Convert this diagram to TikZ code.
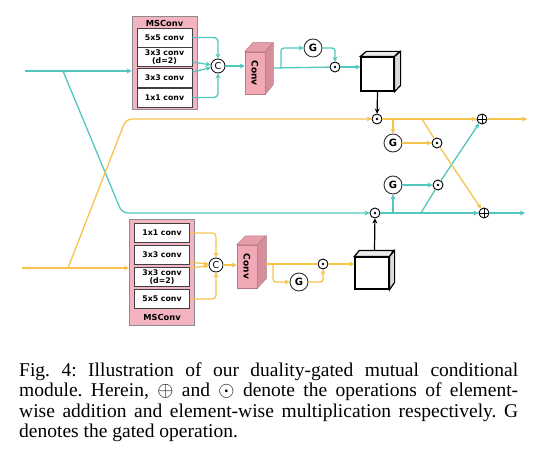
\documentclass[tikz,border=0pt]{standalone}
\usepackage{fontspec}
\setmainfont{Liberation Serif}
\setsansfont{DejaVu Sans}
\usetikzlibrary{arrows.meta,positioning,calc}
\definecolor{gmteal}{HTML}{52C7BD}
\definecolor{gmyellow}{HTML}{F6C34C}
\definecolor{gmpink}{HTML}{F4B3C0}
\definecolor{gmconv}{HTML}{F1A9B5}
\definecolor{gmconvside}{HTML}{D68F9A}
\definecolor{gmconvtop}{HTML}{E59DA9}
\tikzset{
  gmms/.style={draw=black!45, fill=gmpink, line width=0.9pt, inner sep=0pt},
  gmbox/.style={draw=black!75, fill=white, line width=0.8pt, minimum width=55pt,
    minimum height=19pt, inner sep=0pt, align=center,
    font=\sffamily\bfseries\fontsize{7.8}{8.2}\selectfont},
  gmtitle/.style={font=\sffamily\bfseries\fontsize{8.3}{8.3}\selectfont, inner sep=0pt},
  gmcat/.style={circle, draw=black, fill=white, line width=0.8pt, minimum size=14pt,
    inner sep=0pt, font=\sffamily\fontsize{9.5}{9.5}\selectfont},
  gmgate/.style={circle, draw=black!80, fill=white, line width=0.9pt, minimum size=18pt,
    inner sep=0pt, font=\sffamily\bfseries\fontsize{10}{10}\selectfont},
  gmmul/.style={circle, draw=black, fill=white, line width=0.9pt, minimum size=10pt,
    inner sep=0pt, path picture={\fill[black] (path picture bounding box.center) circle (1.4pt);}},
  gmadd/.style={circle, draw=black, fill=white, line width=0.9pt, minimum size=10pt,
    inner sep=0pt, path picture={\draw[black, line width=0.9pt]
      (path picture bounding box.north) -- (path picture bounding box.south)
      (path picture bounding box.west) -- (path picture bounding box.east);}},
  gmconvf/.style={draw=gmconvside!85!black, fill=gmconv, line width=0.5pt, inner sep=0pt},
  gmconvtxt/.style={font=\sffamily\bfseries\fontsize{9}{9}\selectfont, inner sep=0pt},
  gmcubef/.style={draw=black, fill=white, line width=1.2pt, inner sep=0pt},
  gmtline/.style={draw=gmteal, line width=1.3pt},
  gmyline/.style={draw=gmyellow, line width=1.3pt},
  gmtarrow/.style={gmtline, -{Stealth[length=5pt,width=5pt]}},
  gmyarrow/.style={gmyline, -{Stealth[length=5pt,width=5pt]}},
  gmkarrow/.style={draw=black, line width=1.2pt, -{Stealth[length=5pt,width=5pt]}}
}
\begin{document}
\begin{tikzpicture}[x=1pt,y=-1pt]
  \useasboundingbox (0,0) rectangle (538,465);
  % upper MSConv block
  \node[gmms, minimum width=65pt, minimum height=93pt] (msA) at (164.5,62.5) {};
  \node[gmtitle] (msAt) at (164.5,23) {MSConv};
  \node[gmbox] (a1) at (164.5,37.5) {5x5 conv};
  \node[gmbox] (a2) at (164.5,57) {3x3 conv\\(d=2)};
  \node[gmbox] (a3) at (164.5,77.5) {3x3 conv};
  \node[gmbox] (a4) at (164.5,97.5) {1x1 conv};
  \node[gmcat] (cA) at (218,66) {C};
  % lower MSConv block
  \node[gmms, minimum width=65pt, minimum height=106pt] (msB) at (162,272) {};
  \node[gmtitle] (msBt) at (162,317) {MSConv};
  \node[gmbox] (b1) at (162,233) {1x1 conv};
  \node[gmbox] (b2) at (162,254.5) {3x3 conv};
  \node[gmbox] (b3) at (162,277) {3x3 conv\\(d=2)};
  \node[gmbox] (b4) at (162,299) {5x5 conv};
  \node[gmcat] (cB) at (216,265) {C};
  % conv cubes
  \node[gmconvf, minimum width=20pt, minimum height=42pt] (convA) at (255,73) {};
  \filldraw[gmconvf, fill=gmconvtop] (convA.north west) -- ++(8,-9) -- ++(20,0) -- (convA.north east) -- cycle;
  \filldraw[gmconvf, fill=gmconvside] (convA.north east) -- ++(8,-9) -- ++(0,42) -- (convA.south east) -- cycle;
  \node[gmconvtxt, rotate=-90] at (convA) {Conv};
  \node[gmconvf, minimum width=20pt, minimum height=43pt] (convB) at (247,266.5) {};
  \filldraw[gmconvf, fill=gmconvtop] (convB.north west) -- ++(9,-9) -- ++(20,0) -- (convB.north east) -- cycle;
  \filldraw[gmconvf, fill=gmconvside] (convB.north east) -- ++(9,-9) -- ++(0,43) -- (convB.south east) -- cycle;
  \node[gmconvtxt, rotate=-90] at (convB) {Conv};
  % feature cubes
  \node[gmcubef, minimum width=33pt, minimum height=34pt] (cubeA) at (377.5,74) {};
  \filldraw[gmcubef, fill=black!8] (cubeA.north west) -- ++(6,-5) -- ++(33,0) -- (cubeA.north east) -- cycle;
  \filldraw[gmcubef, fill=black!14] (cubeA.north east) -- ++(6,-5) -- ++(0,34) -- (cubeA.south east) -- cycle;
  \node[gmcubef, minimum width=34pt, minimum height=32pt] (cubeB) at (372,273) {};
  \filldraw[gmcubef, fill=black!8] (cubeB.north west) -- ++(5,-6) -- ++(34,0) -- (cubeB.north east) -- cycle;
  \filldraw[gmcubef, fill=black!14] (cubeB.north east) -- ++(5,-6) -- ++(0,32) -- (cubeB.south east) -- cycle;
  % gates and element-wise operators
  \node[gmgate] (gA) at (313,48) {G};
  \node[gmmul] (mA) at (335,67) {};
  \node[gmgate] (gD) at (299,282) {G};
  \node[gmmul] (mF) at (323,264) {};
  \node[gmmul] (mB) at (377,119) {};
  \node[gmgate] (gB) at (393,143) {G};
  \node[gmmul] (mD) at (437,143) {};
  \node[gmadd] (pB) at (482,119) {};
  \node[gmmul] (mC) at (375,213) {};
  \node[gmgate] (gC) at (393,185) {G};
  \node[gmmul] (mE) at (438,185) {};
  \node[gmadd] (pC) at (484,213) {};
  % free ends and bends
  \coordinate (tin) at (25,71);
  \coordinate (tbr) at (63,71);
  \coordinate (tknee) at (122,213);
  \coordinate (yin) at (22,268);
  \coordinate (ybr) at (68,268);
  \coordinate (yknee) at (126,119);
  \coordinate (convAout) at (273,68);
  \coordinate (brA) at (281,68);
  \coordinate (convBout) at (266,264);
  \coordinate (brB) at (273,264);
  \coordinate (ydiag) at (422,119);
  \coordinate (tdiag) at (421,213);
  \coordinate (yout) at (527,119);
  \coordinate (tout) at (525,213);
  % teal stream
  \draw[gmtarrow] (tin) -- (tin -| msA.west);
  \draw[gmtarrow, rounded corners=6pt] (tbr) -- (tknee) -- (mC);
  \draw[gmtarrow, rounded corners=4pt] (a1.east) -| (cA.north);
  \draw[gmtarrow] ([yshift=-5pt]a2.east) -- (cA);
  \draw[gmtarrow] ([yshift=5.5pt]a3.east) -- (cA);
  \draw[gmtarrow, rounded corners=4pt] (a4.east) -| (cA.south);
  \draw[gmtarrow] (cA.east) -- (cA.east -| convA.west);
  \draw[gmtline] (convAout) -- (mA);
  \draw[gmtarrow] (mA) -- (mA -| cubeA.west);
  \draw[gmtarrow, rounded corners=3pt] (brA) |- (gA);
  \draw[gmtarrow, rounded corners=3pt] (gA) -| (mA);
  \draw[gmtarrow] (mC) -- (pC);
  \draw[gmtarrow] (pC) -- (tout);
  \draw[gmtarrow] (mC -| gC) -- (gC);
  \draw[gmtarrow] (gC) -- (mE);
  \draw[gmtline] (tdiag) -- (mE);
  \draw[gmtarrow] (mE) -- (pB);
  % yellow stream
  \draw[gmyarrow] (yin) -- (yin -| msB.west);
  \draw[gmyarrow, rounded corners=6pt] (ybr) -- (yknee) -- (mB);
  \draw[gmyarrow, rounded corners=4pt] (b1.east) -| (cB.north);
  \draw[gmyarrow] ([yshift=-7.5pt]b2.east) -- (cB);
  \draw[gmyarrow] ([yshift=9pt]b3.east) -- (cB);
  \draw[gmyarrow, rounded corners=4pt] (b4.east) -| (cB.south);
  \draw[gmyarrow] (cB.east) -- (cB.east -| convB.west);
  \draw[gmyline] (convBout) -- (mF);
  \draw[gmyarrow] (mF) -- (mF -| cubeB.west);
  \draw[gmyarrow, rounded corners=3pt] (brB) |- (gD);
  \draw[gmyarrow, rounded corners=3pt] (gD) -| (mF);
  \draw[gmyarrow] (mB) -- (pB);
  \draw[gmyarrow] (pB) -- (yout);
  \draw[gmyarrow] (mB -| gB) -- (gB);
  \draw[gmyarrow] (gB) -- (mD);
  \draw[gmyline] (ydiag) -- (mD);
  \draw[gmyarrow] (mD) -- (pC);
  % cube outputs
  \draw[gmkarrow] (cubeA.south) -- (mB);
  \draw[gmkarrow] ($(cubeB.north)+(2.5,-6)$) -- (mC);
  % caption
  \node[anchor=base west, inner sep=0pt] (cap) at (19,376) {\parbox[t]{499pt}{\fontsize{19.5}{20.5}\selectfont\frenchspacing
    Fig. 4: Illustration of our duality-gated mutual conditional\linebreak
    module. Herein, $\oplus$ and $\odot$ denote the operations of element-\linebreak
    wise addition and element-wise multiplication respectively. G\linebreak
    denotes the gated operation.}};
\end{tikzpicture}
\end{document}
